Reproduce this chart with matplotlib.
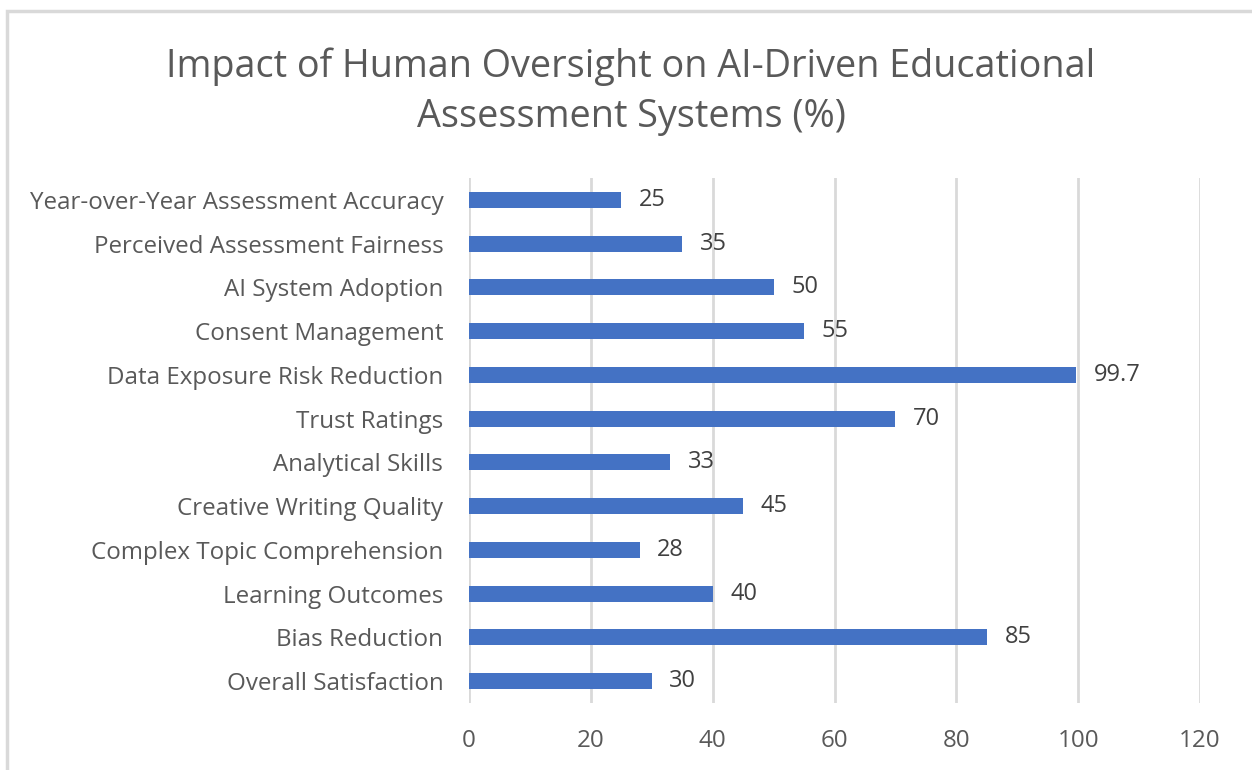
import matplotlib
matplotlib.use("Agg")
import matplotlib.pyplot as plt
from matplotlib.patches import Rectangle

categories = [
    "Overall Satisfaction",
    "Bias Reduction",
    "Learning Outcomes",
    "Complex Topic Comprehension",
    "Creative Writing Quality",
    "Analytical Skills",
    "Trust Ratings",
    "Data Exposure Risk Reduction",
    "Consent Management",
    "AI System Adoption",
    "Perceived Assessment Fairness",
    "Year-over-Year Assessment Accuracy",
]
values = [30, 85, 40, 28, 45, 33, 70, 99.7, 55, 50, 35, 25]
xticks = [0, 20, 40, 60, 80, 100, 120]
title = "Impact of Human Oversight on AI-Driven Educational\nAssessment Systems (%)"

plt.rcParams['font.family'] = ['Open Sans', 'DejaVu Sans']

W, H = 1252, 770
fig = plt.figure(figsize=(W / 100, H / 100), dpi=100)
fig.patch.set_facecolor('white')

# outer chart border (cut off at right/bottom)
fig.add_artist(Rectangle((7 / W, -0.1), 1.2, (H - 11) / H + 0.1, transform=fig.transFigure,
                         fill=False, edgecolor='#d9d9d9', linewidth=2.5, zorder=0))

left, right = 469 / W, 1200 / W
top, bottom = 1 - 178 / H, 1 - 703 / H
ax = fig.add_axes([left, bottom, right - left, top - bottom])

ypos = list(range(len(categories)))
ax.barh(ypos, values, height=0.37, color='#4472c4', zorder=3)
for y, v in zip(ypos, values):
    ax.text(v + 2.9, y, f"{v:g}", va='center', ha='left', fontsize=17, color='#404040')

ax.set_xlim(0, 120)
ax.set_ylim(-0.5, len(categories) - 0.5)
ax.set_xticks(xticks)
ax.set_xticklabels([str(t) for t in xticks])
ax.set_yticks(ypos)
ax.set_yticklabels(categories)
ax.tick_params(axis='both', length=0, labelsize=17.4, labelcolor='#595959')
ax.tick_params(axis='y', pad=18.5)
ax.tick_params(axis='x', pad=19)
ax.grid(axis='x', color='#d9d9d9', linewidth=2, zorder=0)
for s in ax.spines.values():
    s.set_visible(False)

fig.text(631 / W, 1 - 92 / H, title, ha='center', va='center', fontsize=27.2,
         color='#595959', linespacing=1.42)

fig.savefig('out.png', dpi=100)
